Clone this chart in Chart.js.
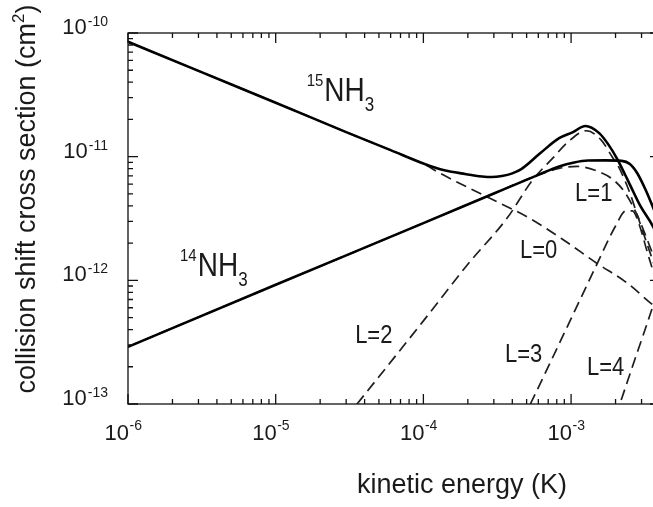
<!DOCTYPE html>
<html><head><meta charset="utf-8">
<style>
html,body{margin:0;padding:0;overflow:hidden;background:#fff;width:653px;height:507px}
#wrap{position:absolute;left:0;top:0;width:670px;height:507px}
</style>
<script src="https://cdn.jsdelivr.net/npm/chart.js@4.4.1/dist/chart.umd.min.js"></script>
</head><body><div id="wrap"><canvas id="c" width="670" height="507"></canvas></div>
<script>
// ---- data (kinetic energy in K, cross section in cm^2) ----
const E15 = [1e-6, 3e-6, 1e-5, 3e-5, 6e-5, 1e-4, 1.3e-4, 1.55e-4, 1.8e-4, 2.5e-4, 2.9e-4, 3.4e-4, 4e-4, 4.6e-4, 6.2e-4, 8.3e-4, 1.03e-3, 1.25e-3, 1.55e-3, 1.8e-3, 2.05e-3, 2.45e-3, 2.95e-3, 3.6e-3, 4e-3];
const S15 = [8.5e-11, 4.94e-11, 2.73e-11, 1.58e-11, 1.13e-11, 8.8e-12, 7.9e-12, 7.55e-12, 7.33e-12, 6.92e-12, 6.85e-12, 6.98e-12, 7.33e-12, 7.93e-12, 1.07e-11, 1.41e-11, 1.58e-11, 1.77e-11, 1.55e-11, 1.24e-11, 9.6e-12, 6.26e-12, 3.98e-12, 2.7e-12, 1.95e-12];

const E14 = [1e-6, 1e-5, 1e-4, 3e-4, 6e-4, 8.3e-4, 1.05e-3, 1.3e-3, 1.7e-3, 2.2e-3, 2.5e-3, 2.8e-3, 3.2e-3, 3.6e-3, 4e-3];
const S14 = [2.9e-13, 9.2e-13, 2.9e-12, 5.04e-12, 7.13e-12, 8.34e-12, 8.98e-12, 9.3e-12, 9.33e-12, 9.25e-12, 8.73e-12, 7.38e-12, 5.38e-12, 3.85e-12, 2.86e-12];

const EL0 = [1e-6, 3e-6, 1e-5, 3e-5, 6e-5, 1e-4, 1.3e-4, 2.5e-4, 5.2e-4, 9e-4, 1.5e-3, 2.4e-3, 3.6e-3, 4e-3];
const SL0 = [8.5e-11, 4.94e-11, 2.73e-11, 1.58e-11, 1.13e-11, 8.75e-12, 7.33e-12, 4.94e-12, 3.19e-12, 2.1e-12, 1.37e-12, 9.5e-13, 6.3e-13, 5.77e-13];

const EL1 = [1e-6, 1e-5, 1e-4, 3e-4, 5.5e-4, 8.3e-4, 1.1e-3, 1.5e-3, 1.9e-3, 2.3e-3, 2.8e-3, 3.6e-3, 4e-3];
const SL1 = [2.9e-13, 9.2e-13, 2.9e-12, 5.04e-12, 6.83e-12, 8.04e-12, 8.34e-12, 7.65e-12, 6.6e-12, 5.19e-12, 3.38e-12, 1.6e-12, 1.17e-12];

const EL2 = [3e-5, 3.6e-5, 1e-4, 2e-4, 3.7e-4, 5.5e-4, 7.6e-4, 9.5e-4, 1.27e-3, 1.6e-3, 1.9e-3, 2.1e-3, 2.5e-3, 2.85e-3, 3.6e-3, 4e-3];
const SL2 = [7.8e-14, 1.02e-13, 4.7e-13, 1.35e-12, 3.2e-12, 6.5e-12, 9.86e-12, 1.31e-11, 1.62e-11, 1.36e-11, 9.95e-12, 8.26e-12, 5.09e-12, 3.19e-12, 1.41e-12, 1e-12];

const EL3 = [4.7e-4, 5.3e-4, 1e-3, 1.5e-3, 2e-3, 2.35e-3, 2.6e-3, 2.9e-3, 3.25e-3, 3.6e-3, 4e-3];
const SL3 = [7.5e-14, 1e-13, 4.9e-13, 1.36e-12, 2.75e-12, 3.64e-12, 3.64e-12, 2.8e-12, 1.76e-12, 1.17e-12, 7.6e-13];

const EL4 = [2e-3, 2.15e-3, 2.6e-3, 3.1e-3, 3.6e-3, 4e-3];
const SL4 = [8e-14, 1.02e-13, 2.0e-13, 3.7e-13, 6.3e-13, 9.1e-13];

// tick labels (exponents of 10)
const xTickExps = [-6, -5, -4, -3];
const yTickExps = [-13, -12, -11, -10];

// curve annotations (anchored in data units)
const labels = [
  {t: 'L=0', x: 4.51e-4, y: 1.51e-12},
  {t: 'L=1', x: 1.064e-3, y: 4.34e-12},
  {t: 'L=2', x: 3.45e-5, y: 3.1e-13},
  {t: 'L=3', x: 3.57e-4, y: 2.2e-13},
  {t: 'L=4', x: 1.28e-3, y: 1.72e-13}
];
const species = [
  {iso: '15', x: 1.62e-5, y: 2.82e-11},
  {iso: '14', x: 2.25e-6, y: 1.08e-12}
];

const FONT = '"Liberation Sans", Arial, Helvetica, sans-serif';
function pts(E, S) { return E.map((e, i) => ({x: e, y: S[i]})); }
function solid(E, S) {
  return {data: pts(E, S), borderColor: '#000', borderWidth: 2.6, pointRadius: 0,
          cubicInterpolationMode: 'monotone', fill: false};
}
function dashed(E, S) {
  return {data: pts(E, S), borderColor: '#1e1e1e', borderWidth: 1.7, borderDash: [11, 6],
          pointRadius: 0, cubicInterpolationMode: 'monotone', fill: false};
}

function txt(ctx, s, x, y, size, align, sy) {
  ctx.save();
  ctx.font = size + 'px ' + FONT;
  ctx.textAlign = align || 'left';
  ctx.textBaseline = 'alphabetic';
  ctx.translate(x, y);
  ctx.scale(1, sy || 1);
  ctx.fillText(s, 0, 0);
  const w = ctx.measureText(s).width;
  ctx.restore();
  return w;
}
function measure(ctx, s, size) { ctx.font = size + 'px ' + FONT; return ctx.measureText(s).width; }

const decor = {
  id: 'decor',
  afterDraw(chart) {
    const ctx = chart.ctx, a = chart.chartArea, xs = chart.scales.x, ys = chart.scales.y;
    ctx.save();
    ctx.strokeStyle = '#111';
    ctx.fillStyle = '#1a1a1a';
    ctx.lineWidth = 1.3;
    ctx.strokeRect(a.left, a.top, a.right - a.left, a.bottom - a.top);
    // ticks
    ctx.beginPath();
    for (let e = -6; e <= -3; e++) {
      for (let m = 1; m <= 9; m++) {
        const v = m * Math.pow(10, e);
        if (v > xs.max * 1.0001) continue;
        const px = xs.getPixelForValue(v);
        const len = m === 1 ? 10 : 5;
        ctx.moveTo(px, a.bottom); ctx.lineTo(px, a.bottom - len);
        ctx.moveTo(px, a.top); ctx.lineTo(px, a.top + len);
      }
    }
    for (let e = -13; e <= -10; e++) {
      for (let m = 1; m <= 9; m++) {
        if (e === -10 && m > 1) continue;
        const v = m * Math.pow(10, e);
        const py = ys.getPixelForValue(v);
        const len = m === 1 ? 10 : 5;
        ctx.moveTo(a.left, py); ctx.lineTo(a.left + len, py);
        ctx.moveTo(a.right, py); ctx.lineTo(a.right - len, py);
      }
    }
    ctx.stroke();
    // x tick labels
    xTickExps.forEach(e => {
      const px = xs.getPixelForValue(Math.pow(10, e));
      txt(ctx, '10', px + 1, a.bottom + 36, 22, 'right');
      txt(ctx, String(e), px + 1.5, a.bottom + 26, 14, 'left');
    });
    // y tick labels
    yTickExps.forEach(e => {
      const py = ys.getPixelForValue(Math.pow(10, e));
      const wS = measure(ctx, String(e), 14);
      const right = a.left - 20;
      txt(ctx, String(e), right, py - 7, 14, 'right');
      txt(ctx, '10', right - wS - 1, py + 1, 22, 'right');
    });
    // axis titles
    txt(ctx, 'kinetic energy (K)', 462, 493, 27, 'center');
    ctx.save();
    ctx.translate(35, 199);
    ctx.rotate(-Math.PI / 2);
    const p1 = 'collision shift cross section (cm', p2 = '2', p3 = ')';
    const w1 = measure(ctx, p1, 27), w2 = measure(ctx, p2, 17), w3 = measure(ctx, p3, 27);
    let sx = -(w1 + w2 + w3) / 2;
    txt(ctx, p1, sx, 0, 27, 'left'); sx += w1;
    txt(ctx, p2, sx, -11, 17, 'left'); sx += w2;
    txt(ctx, p3, sx, 0, 27, 'left');
    ctx.restore();
    // curve labels
    labels.forEach(l => {
      txt(ctx, l.t, xs.getPixelForValue(l.x), ys.getPixelForValue(l.y), 22, 'left', 1.15);
    });
    species.forEach(s => {
      let x = xs.getPixelForValue(s.x);
      const y = ys.getPixelForValue(s.y);
      x += txt(ctx, s.iso, x, y - 15, 15, 'left', 1.1);
      x += txt(ctx, 'NH', x + 1, y, 28, 'left', 1.2) + 1;
      txt(ctx, '3', x, y + 10, 17, 'left', 1.15);
    });
    ctx.restore();
  }
};

new Chart(document.getElementById('c').getContext('2d'), {
  type: 'line',
  data: {datasets: [
    solid(E15, S15), solid(E14, S14),
    dashed(EL0, SL0), dashed(EL1, SL1), dashed(EL2, SL2), dashed(EL3, SL3), dashed(EL4, SL4)
  ]},
  options: {
    responsive: false, animation: false, devicePixelRatio: 1,
    layout: {padding: {top: 33, right: 10, left: 0, bottom: 0}},
    plugins: {legend: {display: false}, tooltip: {enabled: false}},
    scales: {
      x: {type: 'logarithmic', min: 1e-6, max: 4e-3,
          ticks: {display: false}, grid: {display: false}, border: {display: false},
          afterFit(s) { s.height = 103; }},
      y: {type: 'logarithmic', min: 1e-13, max: 1e-10,
          ticks: {display: false}, grid: {display: false}, border: {display: false},
          afterFit(s) { s.width = 128; }}
    }
  },
  plugins: [decor]
});
</script></body></html>
